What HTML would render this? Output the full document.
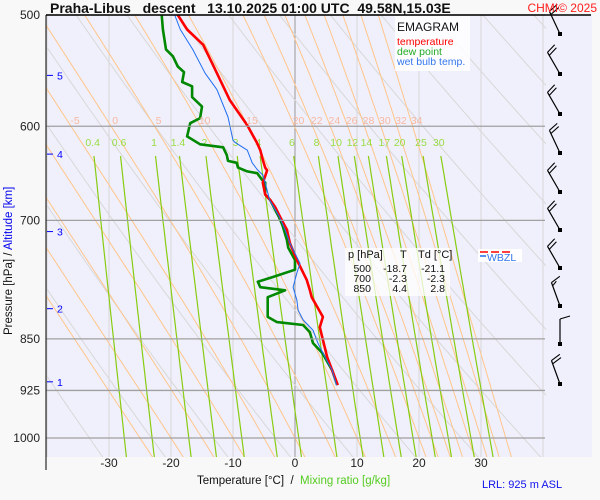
<!DOCTYPE html>
<html><head><meta charset="utf-8"><style>
html,body{margin:0;padding:0;background:#f8f8f8;}
svg{display:block;font-family:"Liberation Sans",sans-serif;}
</style></head><body>
<svg id="chart" width="600" height="500" xmlns="http://www.w3.org/2000/svg">
<rect x="0" y="0" width="600" height="500" fill="#f8f8f8"/>
<rect x="46" y="15" width="546" height="442" fill="#f0f0fc"/>
<defs><clipPath id="clip"><rect x="46" y="15" width="500" height="442"/></clipPath></defs>
<g id="grid" clip-path="url(#clip)"></g>
<g id="marks"></g>
<g id="axes"></g>
</svg>
<script>
// ---- data ----
const pressureTicks = [500, 600, 700, 850, 925, 1000];
const tempTicks = [-30, -20, -10, 0, 10, 20, 30];
const altKm = [5, 4, 3, 2, 1];
const altPress = [552, 628, 713, 809, 912];
const thetaW = [-25, -20, -15, -10, -5, 0, 5, 10, 15, 20, 22, 24, 26, 28, 30, 32, 34];
const thetaWLabels = [-5, 0, 5, 10, 15, 20, 22, 24, 26, 28, 30, 32, 34];
const mixRatios = [0.4, 0.6, 1, 1.4, 2, 3, 4, 6, 8, 10, 12, 14, 17, 20, 25, 30];
const dryTheta = [230, 240, 250, 260, 270, 280, 290, 300, 310, 320, 330, 340, 350, 360, 370, 380, 390, 400, 410, 420, 430, 440, 450, 460];
const tempP = [500,512,525,543,575,599,617,624,634,642,645,651,658,671,677,685,696,711,727,747,772,785,794,820,834,848,876,895,917];
const tempT = [-18.9,-17.4,-14.8,-13.2,-10.5,-7.7,-6.1,-5.6,-5.2,-4.8,-4.5,-4.8,-5.2,-4.8,-4.0,-3.2,-2.4,-1.3,-0.8,0.3,1.9,2.4,2.7,4.5,4.0,4.4,5.2,6.0,6.9];
const dewP = [500,512,529,535,544,549,558,562,572,581,592,597,610,618,621,629,635,637,642,646,648,655,658,671,677,685,696,706,723,732,747,759,768,774,781,785,794,820,827,831,841,856,870,895,917];
const dewT = [-21.5,-21.3,-20.8,-19.7,-18.9,-17.9,-18.2,-16.6,-16.6,-15.0,-15.3,-16.9,-17.4,-15.3,-11.6,-11.0,-10.8,-9.4,-9.2,-7.7,-6.1,-5.3,-4.8,-4.8,-4.0,-3.4,-2.6,-2.0,-1.3,-1.1,0.0,0.0,-3.5,-6.0,-5.6,-1.6,-4.4,-4.4,-2.9,1.3,2.4,2.9,4.4,6.0,6.8];
const wbP = [500,512,529,550,565,591,614,616,624,637,644,650,658,677,696,711,727,751,763,781,798,811,824,838,856,870,895,917];
const wbT = [-19.4,-18.5,-16.5,-14.5,-12.6,-10.8,-10.0,-9.7,-7.7,-6.9,-6.1,-5.2,-4.8,-4.1,-2.5,-1.6,-0.8,0.8,0.3,-0.3,0.3,0.5,1.3,2.9,3.7,4.5,6.0,6.7];
const barbY = [34, 74, 114, 153, 192, 230, 268, 306, 344, 384];
const barbDir = [335, 330, 330, 335, 330, 330, 330, 340, 360, 340];
const barbKt = [20, 20, 20, 20, 20, 20, 20, 15, 10, 20];
const tableRows = [["500","-18.7","-21.1"],["700","-2.3","-2.3"],["850","4.4","2.8"]];

// ---- scales ----
const X0 = 295, XS = 6.2;
const xT = t => X0 + XS * t;
const yP = p => 15 + 610.3 * Math.log(p / 500);
const NS = "http://www.w3.org/2000/svg";
function mk(tag, attrs, parent) {
  const e = document.createElementNS(NS, tag);
  for (const k in attrs) e.setAttribute(k, attrs[k]);
  parent.appendChild(e); return e;
}
const grid = document.getElementById('grid');
const marks = document.getElementById('marks');
const axes = document.getElementById('axes');

// isotherms
for (let t = -50; t <= 40; t += 10) {
  const l = mk('line', {x1: xT(t), x2: xT(t), y1: 15, y2: 457, stroke: t === 0 ? '#999' : '#d6d6d6', 'stroke-width': 1}, grid);
  
  
}
// dry adiabats
dryTheta.forEach(th => {
  let d = '';
  for (let p = 480; p <= 1040; p += 10) {
    const T = th * Math.pow(p / 1000, 0.286) - 273.15;
    d += (d ? 'L' : 'M') + xT(T).toFixed(1) + ',' + yP(p).toFixed(1);
  }
  const l = mk('path', {d, fill: 'none', stroke: '#d8d8d8', 'stroke-width': 1}, grid);
  
  
});
// pseudo adiabats
function es(Tc) { return 6.112 * Math.exp(17.67 * Tc / (Tc + 243.5)); }
function lapse(T, p) {
  const rs = 0.622 * es(T - 273.15) / (p - es(T - 273.15));
  const Rd = 287, cp = 1005, L = 2.5e6;
  return (Rd * T + L * rs) / (p * (cp + L * L * rs * 0.622 / (Rd * T * T)));
}
const wlabelX = {};
thetaW.forEach(tw => {
  let T = tw + 273.15, p = 1000, pts = [[p, T]];
  while (p > 480) { T -= lapse(T, p) * 2; p -= 2; pts.push([p, T]); if (Math.abs(p - 600) < 0.5) wlabelX[tw] = T - 273.15; }
  T = tw + 273.15; p = 1000; const lo = [];
  while (p < 1040) { T += lapse(T, p) * 2; p += 2; lo.push([p, T]); }
  const all = lo.reverse().concat(pts);
  const d = all.map((q, i) => (i ? 'L' : 'M') + xT(q[1] - 273.15).toFixed(1) + ',' + yP(q[0]).toFixed(1)).join('');
  const l = mk('path', {d, fill: 'none', stroke: '#ffc58a', 'stroke-width': 1}, grid);
  
  
});
// mixing ratio lines
function tw(w, p) { const e = w * p / (622 + w); const a = Math.log(e / 6.112); return 243.5 * a / (17.67 - a); }
mixRatios.forEach(w => {
  let d = '';
  for (let p = 630; p <= 1040; p += 10) d += (d ? 'L' : 'M') + xT(tw(w, p)).toFixed(1) + ',' + yP(p).toFixed(1);
  const l = mk('path', {d, fill: 'none', stroke: '#88cc11', 'stroke-width': 1.2}, grid);
  
  
  const t = mk('text', {x: xT(tw(w, 617)), y: 146, 'font-size': 10.5, fill: '#99dd44', 'text-anchor': 'middle'}, grid);
  t.textContent = w;
  
  
});
// isobars
pressureTicks.forEach(p => {
  const l = mk('line', {x1: 46, x2: 545, y1: yP(p), y2: yP(p), stroke: '#a0a0a0', 'stroke-width': 1.3}, axes);
  
  
  const t = mk('text', {x: 40, y: yP(p) + 4, 'font-size': 12, fill: '#222', 'text-anchor': 'end'}, axes);
  t.textContent = p;
  
  
});
thetaWLabels.forEach(v => {
  const t = mk('text', {x: xT(wlabelX[v]) + 4, y: 124, 'font-size': 10.5, fill: '#f8b8a0', 'text-anchor': 'middle'}, axes);
  t.textContent = v;
  
  
});
tempTicks.forEach(v => {
  const t = mk('text', {x: xT(v), y: 467, 'font-size': 12, fill: '#222', 'text-anchor': 'middle'}, axes);
  t.textContent = v;
  
  
});
altKm.forEach((k, i) => {
  const y = yP(altPress[i]);
  const l = mk('line', {x1: 47, x2: 53, y1: y, y2: y, stroke: '#00f', 'stroke-width': 1}, axes);
  
  
  const t = mk('text', {x: 57, y: y + 4, 'font-size': 10.5, fill: '#00f'}, axes);
  t.textContent = k;
  
  
});
// series
function series(P, T, color, w, name) {
  const d = P.map((p, i) => (i ? 'L' : 'M') + xT(T[i]).toFixed(1) + ',' + yP(p).toFixed(1)).join('');
  const l = mk('path', {d, fill: 'none', stroke: color, 'stroke-width': w, 'stroke-linejoin': 'round'}, marks);
  
  
}
series(dewP, dewT, '#008800', 2.6, 'dew-point-line');
series(tempP, tempT, '#ff0000', 2.6, 'temperature-line');
series(wbP, wbT, '#1e6ef0', 1, 'wet-bulb-line');
// wind barbs
barbY.forEach((y, i) => {
  const bx = 560, L = 25, a = barbDir[i] * Math.PI / 180;
  const tx = bx + L * Math.sin(a), ty = y - L * Math.cos(a);
  const g = mk('g', {}, marks);
  
  
  mk('line', {x1: bx, y1: y, x2: tx, y2: ty, stroke: '#000', 'stroke-width': 1.2}, g);
  mk('rect', {x: bx - 2, y: y - 2, width: 4, height: 4, fill: '#000'}, g);
  let n = Math.floor(barbKt[i] / 10), half = (barbKt[i] % 10) >= 5;
  const ux = Math.sin(a), uy = -Math.cos(a);
  const px = Math.cos(a), py = Math.sin(a);
  for (let k = 0; k < n + (half ? 1 : 0); k++) {
    const sx = tx - ux * 3.5 * k, sy = ty - uy * 3.5 * k;
    const len = (k >= n) ? 5 : 10;
    mk('line', {x1: sx, y1: sy, x2: sx + px * len + ux * 3, y2: sy + py * len + uy * 3, stroke: '#000', 'stroke-width': 1.1}, g);
  }
});
// table
const tb = mk('g', {}, marks);


mk('rect', {x: 345, y: 248, width: 105, height: 48, fill: '#ffffff', opacity: 0.75}, tb);
[['p [hPa]', 348], ['T', 400], ['Td [°C]', 418]].forEach(h => {
  const t = mk('text', {x: h[1], y: 258, 'font-size': 11, fill: '#111'}, tb); t.textContent = h[0];
});
tableRows.forEach((r, i) => {
  const y = 272 + i * 10;
  [[r[0], 371], [r[1], 407], [r[2], 445]].forEach(c => {
    const t = mk('text', {x: c[1], y, 'font-size': 10.5, fill: '#111', 'text-anchor': 'end'}, tb); t.textContent = c[0];
  });
});
</script>
<svg style="position:absolute;left:0;top:0" width="600" height="500" xmlns="http://www.w3.org/2000/svg">
<line x1="46" y1="15" x2="591" y2="15" stroke="#000" stroke-width="1.5"/>
<line x1="46" y1="15" x2="46" y2="470" stroke="#000" stroke-width="1"/>
<text x="50" y="13" font-size="14" font-weight="bold" fill="#111" font-family="Liberation Sans, sans-serif" xml:space="preserve">Praha-Libus   descent   13.10.2025 01:00 UTC  49.58N,15.03E</text>
<text x="597" y="12" font-size="12" fill="#ff2020" text-anchor="end" font-family="Liberation Sans, sans-serif">CHMI© 2025</text>
<rect x="395" y="16" width="75" height="55" fill="#ffffff" opacity="0.85"/>
<text x="397" y="31" font-size="12" fill="#111" font-family="Liberation Sans, sans-serif">EMAGRAM</text>
<text x="397" y="45" font-size="10.5" fill="#ff0000" font-family="Liberation Sans, sans-serif">temperature</text>
<text x="397" y="55" font-size="10.5" fill="#22aa22" font-family="Liberation Sans, sans-serif">dew point</text>
<text x="397" y="65" font-size="10.5" fill="#3377ee" font-family="Liberation Sans, sans-serif">wet bulb temp.</text>
<rect x="478" y="249" width="44" height="13" fill="#ffffff"/>
<line x1="480" y1="252" x2="512" y2="252" stroke="#ff0000" stroke-width="1.5" stroke-dasharray="8,3"/>
<line x1="480" y1="256" x2="486" y2="256" stroke="#1e6ef0" stroke-width="1.5"/>
<text x="487" y="261" font-size="10.5" fill="#3377ee" font-family="Liberation Sans, sans-serif">WBZL</text>
<text transform="translate(12,335) rotate(-90)" font-size="11.5" fill="#111" font-family="Liberation Sans, sans-serif">Pressure [hPa]  /  <tspan fill="#0000ee">Altitude [km]</tspan></text>
<text x="197" y="484" font-size="11.5" fill="#111" font-family="Liberation Sans, sans-serif" xml:space="preserve">Temperature [°C]  /  <tspan fill="#55cc22">Mixing ratio [g/kg]</tspan></text>
<text x="482" y="488" font-size="11" fill="#1111ee" font-family="Liberation Sans, sans-serif">LRL: 925 m ASL</text>
</svg>
</body></html>
